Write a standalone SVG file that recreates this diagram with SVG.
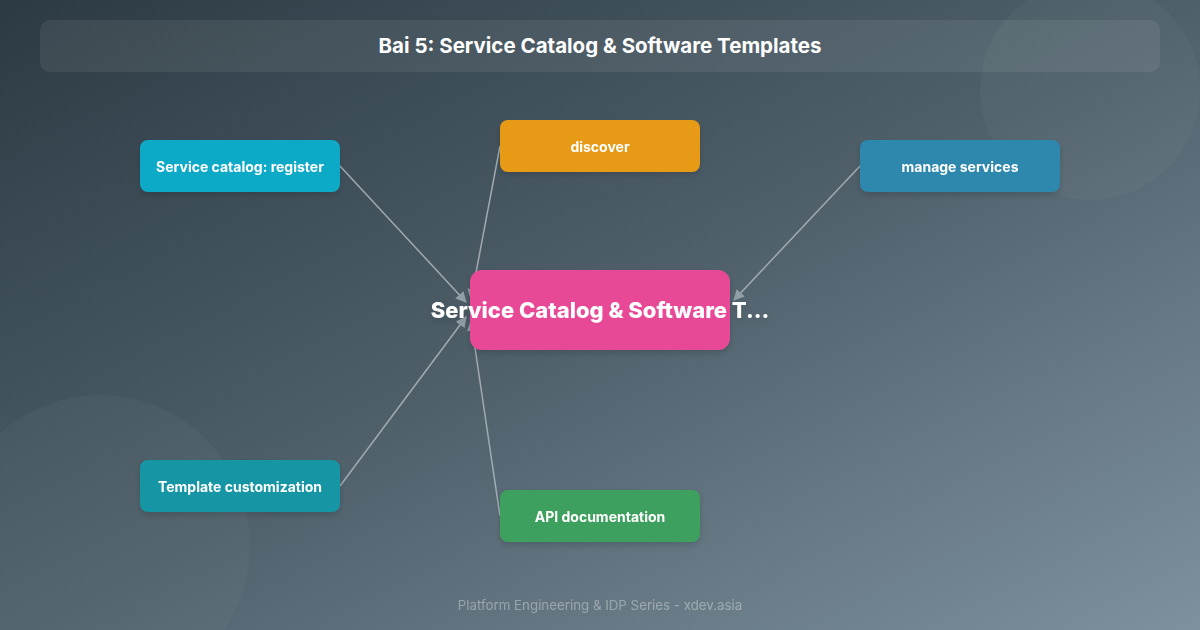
<svg xmlns="http://www.w3.org/2000/svg" width="1200" height="630" viewBox="0 0 1200 630">
  <defs>
    <linearGradient id="bg" x1="0" y1="0" x2="1" y2="1">
      <stop offset="0" stop-color="#2c3a43"/>
      <stop offset="0.5" stop-color="#4f606b"/>
      <stop offset="1" stop-color="#7d929d"/>
    </linearGradient>
    <marker id="arrow" viewBox="0 0 10 10" refX="9" refY="5" markerWidth="11" markerHeight="11" orient="auto-start-reverse" markerUnits="userSpaceOnUse">
      <path d="M0,0 L10,5 L0,10 z" fill="#9aa6ad"/>
    </marker>
    <filter id="shadow" x="-20%" y="-20%" width="140%" height="160%">
      <feDropShadow dx="0" dy="3" stdDeviation="3" flood-color="#000" flood-opacity="0.15"/>
    </filter>
    <style>
      .node-text { font-family: Inter, "Liberation Sans", sans-serif; font-weight: 700; font-size: 14px; fill: #ffffff; text-anchor: middle; dominant-baseline: central; }
      .edge { stroke: #a9b3b9; stroke-width: 1.5; fill: none; marker-end: url(#arrow); opacity: 0.9; }
    </style>
  </defs>

  <rect x="0" y="0" width="1200" height="630" fill="url(#bg)"/>
  <circle cx="1090" cy="90" r="110" fill="#ffffff" opacity="0.03"/>
  <circle cx="100" cy="545" r="150" fill="#ffffff" opacity="0.03"/>

  <g id="title">
    <rect x="40" y="20" width="1120" height="52" rx="10" fill="#ffffff" opacity="0.07"/>
    <text x="600" y="45" font-family="Inter, 'Liberation Sans', sans-serif" font-weight="700" font-size="20.5" fill="#ffffff" text-anchor="middle" dominant-baseline="central">Bai 5: Service Catalog &amp; Software Templates</text>
  </g>

  <g id="connectors">
    <line class="edge" x1="340" y1="166" x2="466" y2="302"/>
    <line class="edge" x1="500" y1="146" x2="471" y2="299"/>
    <line class="edge" x1="860" y1="166" x2="734" y2="300"/>
    <line class="edge" x1="340" y1="486" x2="466" y2="317"/>
    <line class="edge" x1="500" y1="516" x2="471" y2="321"/>
  </g>

  <g id="node-center" filter="url(#shadow)">
    <rect x="470" y="270" width="260" height="80" rx="12" fill="#e84a97"/>
    <text x="600" y="310" font-family="Inter, 'Liberation Sans', sans-serif" font-weight="800" font-size="22" fill="#ffffff" text-anchor="middle" dominant-baseline="central">Service Catalog &amp; Software T...</text>
  </g>

  <g id="node-register" filter="url(#shadow)">
    <rect x="140" y="140" width="200" height="52" rx="8" fill="#11aac8"/>
    <text class="node-text" x="240" y="166">Service catalog: register</text>
  </g>

  <g id="node-discover" filter="url(#shadow)">
    <rect x="500" y="120" width="200" height="52" rx="8" fill="#e69a16"/>
    <text class="node-text" x="600" y="146">discover</text>
  </g>

  <g id="node-manage" filter="url(#shadow)">
    <rect x="860" y="140" width="200" height="52" rx="8" fill="#2e87ac"/>
    <text class="node-text" x="960" y="166">manage services</text>
  </g>

  <g id="node-template" filter="url(#shadow)">
    <rect x="140" y="460" width="200" height="52" rx="8" fill="#1696a5"/>
    <text class="node-text" x="240" y="486">Template customization</text>
  </g>

  <g id="node-api" filter="url(#shadow)">
    <rect x="500" y="490" width="200" height="52" rx="8" fill="#3ea05e"/>
    <text class="node-text" x="600" y="516">API documentation</text>
  </g>

  <g id="footer">
    <text x="600" y="605" font-family="Inter, 'Liberation Sans', sans-serif" font-size="13.3" fill="#ffffff" opacity="0.35" text-anchor="middle" dominant-baseline="central">Platform Engineering &amp; IDP Series - xdev.asia</text>
  </g>
</svg>
